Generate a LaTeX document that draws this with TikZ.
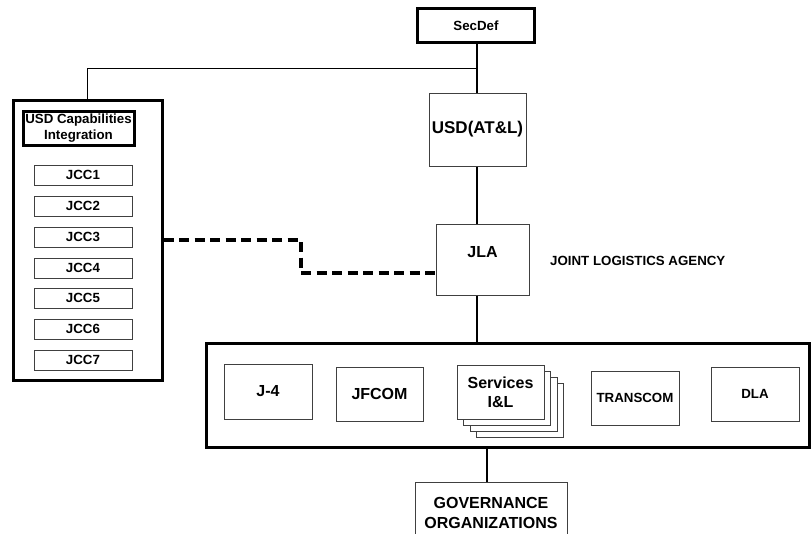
\documentclass[tikz,border=0pt]{standalone}
\usepackage{fontspec}
\setmainfont{Liberation Sans}
\begin{document}
\begin{tikzpicture}[x=1pt,y=-1pt,
  thickbox/.style={draw=black,line width=3pt,fill=white,inner sep=0pt,align=center,font=\bfseries\fontsize{13.3}{15}\selectfont},
  thinbox/.style={draw=black!75,line width=1pt,fill=white,inner sep=0pt,align=center,font=\bfseries\fontsize{13.3}{15}\selectfont},
  bigtxt/.style={font=\bfseries\fontsize{16}{19}\selectfont},
  conn/.style={line width=2.6pt,black},
  thinconn/.style={line width=1pt,black},
  dashconn/.style={line width=3.2pt,black,dash pattern=on 10pt off 5.5pt}]
\clip (0,0) rectangle (811,533);
\useasboundingbox (0,0) rectangle (811,533);

% top chain
\node[thickbox,minimum width=117pt,minimum height=34pt] (secdef) at (476,25.5) {SecDef};
\node[thinbox,minimum width=97pt,minimum height=73pt,font=\bfseries\fontsize{17}{20}\selectfont] (usd) at (477.5,129.5) {USD(AT\&L)};
\node[thinbox,minimum width=93pt,minimum height=71pt] (jla) at (482.5,259.5) {};
\node[bigtxt] (jlatext) at (482.5,252) {JLA};
\node[anchor=west,font=\bfseries\fontsize{13.3}{15}\selectfont,inner sep=0pt] (jlaname) at (550,261) {JOINT LOGISTICS AGENCY};

% left group
\node[thickbox,minimum width=149pt,minimum height=280pt] (capgroup) at (87.5,240) {};
\node[thickbox,minimum width=111pt,minimum height=34pt,font=\bfseries\fontsize{13.3}{15.5}\selectfont] (usdcap) at (78.5,128) {USD Capabilities\\Integration};
\foreach \i/\y in {1/165,2/196,3/227,4/258,5/288,6/319,7/350}{
  \node[thinbox,minimum width=98pt,minimum height=20pt] (jcc\i) at (83,\y+10) {JCC\i};
}

% bottom container
\node[thickbox,minimum width=603pt,minimum height=104pt] (cont) at (507.5,395) {};
\node[thinbox,minimum width=88pt,minimum height=55pt,bigtxt] (j4) at (268,391.5) {J-4};
\node[thinbox,minimum width=87pt,minimum height=54pt,bigtxt] (jfcom) at (379.5,394) {JFCOM};
\foreach \k in {3,2,1}{
  \node[thinbox,minimum width=87pt,minimum height=54pt] (svc\k) at (500.5+6.6*\k,392+6*\k) {};
}
\node[thinbox,minimum width=87pt,minimum height=54pt,font=\bfseries\fontsize{16}{19}\selectfont] (svc) at (500.5,392) {Services\\I\&L};
\node[thinbox,minimum width=88pt,minimum height=54pt] (transcom) at (635,398) {TRANSCOM};
\node[thinbox,minimum width=88pt,minimum height=54pt] (dla) at (755,394) {DLA};

\node[thinbox,minimum width=152pt,minimum height=62pt,font=\bfseries\fontsize{16}{20}\selectfont] (gov) at (491,513) {GOVERNANCE\\ORGANIZATIONS};

% connectors
\coordinate (tee) at (477,68);
\draw[conn] (secdef.south -| 477,0) -- (usd.north -| 477,0);
\draw[thinconn] (tee) -| (capgroup.north -| 87,0);
\draw[conn] (usd.south -| 477,0) -- (jla.north -| 477,0);
\draw[conn] (jla.south -| 477,0) -- (cont.north -| 477,0);
\draw[conn] (cont.south -| 487,0) -- (gov.north -| 487,0);
\draw[dashconn] (capgroup.east |- 0,240) -- (301,240) -- (301,273) -- ([xshift=4pt]jla.west |- 0,273);
\end{tikzpicture}
\end{document}
